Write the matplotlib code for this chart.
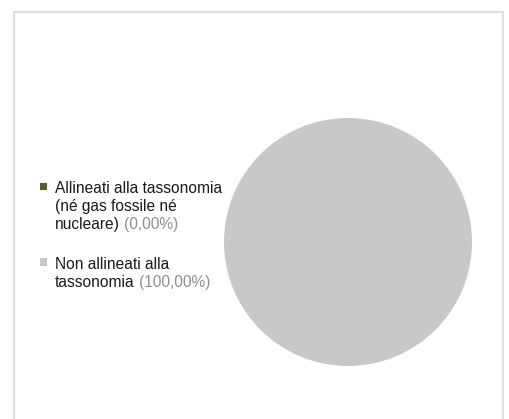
import matplotlib
matplotlib.use("Agg")
import matplotlib.pyplot as plt
from matplotlib.lines import Line2D
from matplotlib.patches import Rectangle

categories = ["Allineati alla tassonomia\n(né gas fossile né\nnucleare)", "Non allineati alla\ntassonomia"]
values = [0.0, 100.0]
pct_labels = ["(0,00%)", "(100,00%)"]
colors = ["#4f6228", "#c8c8c8"]

W, H = 510, 419
fig = plt.figure(figsize=(W / 100, H / 100), dpi=100)
fig.patch.set_facecolor("white")

def fx(px):
    return px / W

def fy(py):
    return 1 - py / H

# frame (left, top, right)
fc = "#e0e0e0"
fig.add_artist(Line2D([fx(14), fx(14)], [fy(12), fy(425)], color=fc, lw=1.6, transform=fig.transFigure))
fig.add_artist(Line2D([fx(14), fx(503.5)], [fy(12), fy(12)], color=fc, lw=1.6, transform=fig.transFigure))
fig.add_artist(Line2D([fx(503.5), fx(503.5)], [fy(12), fy(425)], color=fc, lw=1.6, transform=fig.transFigure))

# pie
cx, cy, r = 348, 242, 124
ax = fig.add_axes([fx(cx - r), fy(cy + r), 2 * r / W, 2 * r / H])
ax.pie(values, colors=colors, startangle=90, counterclock=False, radius=1,
       wedgeprops=dict(linewidth=0))
ax.set_xlim(-1, 1)
ax.set_ylim(-1, 1)
ax.set_aspect("equal")
ax.axis("off")

# legend
font = dict(family=["Liberation Sans", "DejaVu Sans"], size=11.2)
tx = 55
pitch = 18
baselines = [193, 269]
mark_y = [186.5, 262]
fig.canvas.draw()
renderer = fig.canvas.get_renderer()
for i, (cat, pct, col) in enumerate(zip(categories, pct_labels, colors)):
    s = 7.5
    fig.add_artist(Rectangle((fx(40), fy(mark_y[i] + s / 2)), s / W, s / H,
                             facecolor=col, edgecolor="none", transform=fig.transFigure))
    lines = cat.split("\n")
    for j, ln in enumerate(lines):
        yb = baselines[i] + j * pitch
        t = fig.text(fx(tx), fy(yb), ln, color="#1a1a1a", va="baseline", ha="left", **font)
        if j == len(lines) - 1:
            bb = t.get_window_extent(renderer=renderer)
            fig.text(bb.x1 / W + fx(4), fy(yb), pct, color="#8f8f8f", va="baseline", ha="left", **font)

fig.savefig("out.png", dpi=100)
